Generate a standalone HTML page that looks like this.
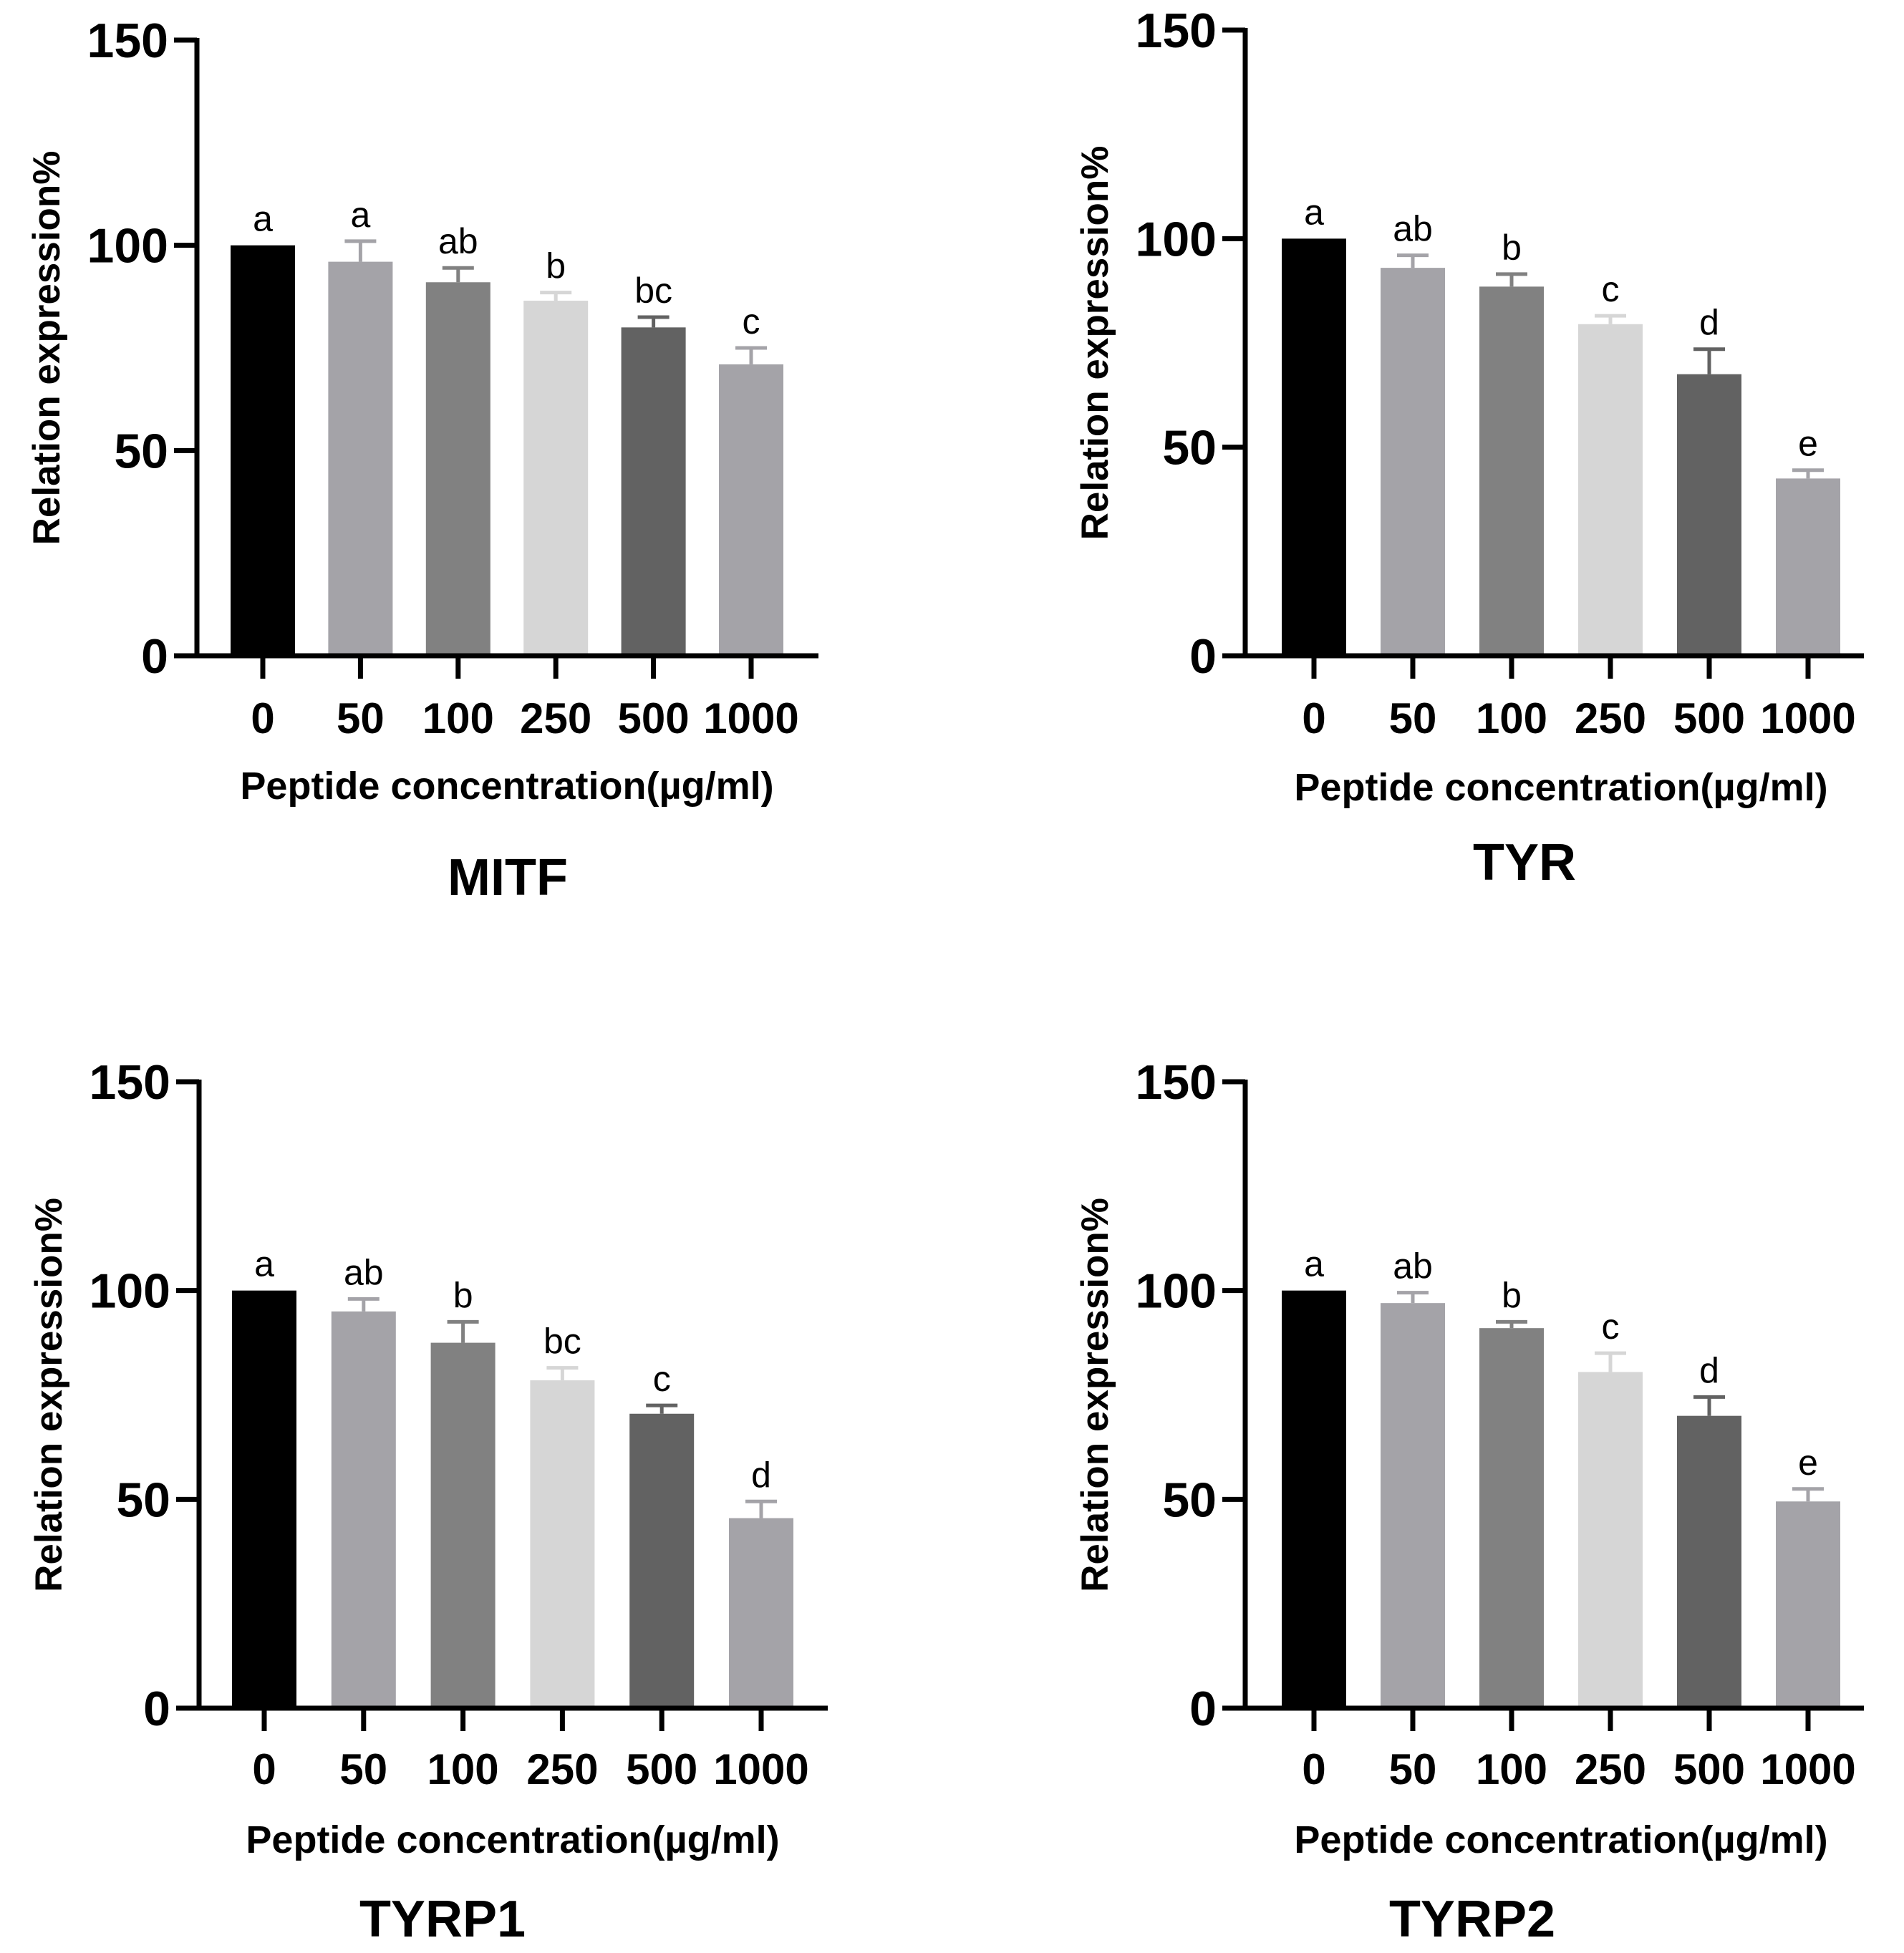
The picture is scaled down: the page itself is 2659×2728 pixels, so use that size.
<!DOCTYPE html>
<html><head><meta charset="utf-8">
<style>html,body{margin:0;padding:0;background:#fff}svg{display:block}</style></head>
<body>
<svg id="fig" width="2659" height="2728" viewBox="0 0 2659 2728" xmlns="http://www.w3.org/2000/svg" font-family="Liberation Sans, Arial, sans-serif"></svg>
<script>
const categories = ["0","50","100","250","500","1000"];
const yTicks = [0,50,100,150];
const colors = ["#000000","#a4a3a8","#818181","#d6d6d6","#626262","#a4a3a8"];
const mitfValues = [100,96,91,86.5,80,71];
const mitfErrTop = [100,101,94.5,88.5,82.5,75];
const mitfLetters = ["a","a","ab","b","bc","c"];
const tyrValues = [100,93,88.5,79.5,67.5,42.5];
const tyrErrTop = [100,96,91.5,81.5,73.5,44.5];
const tyrLetters = ["a","ab","b","c","d","e"];
const tyrp1Values = [100,95,87.5,78.5,70.5,45.5];
const tyrp1ErrTop = [100,98,92.5,81.5,72.5,49.5];
const tyrp1Letters = ["a","ab","b","bc","c","d"];
const tyrp2Values = [100,97,91,80.5,70,49.5];
const tyrp2ErrTop = [100,99.5,92.5,85,74.5,52.5];
const tyrp2Letters = ["a","ab","b","c","d","e"];

const svg = document.getElementById('fig');
const NS = "http://www.w3.org/2000/svg";
function el(tag, attrs, parent){const e=document.createElementNS(NS,tag);for(const k in attrs)e.setAttribute(k,attrs[k]);(parent||svg).appendChild(e);return e;}

function panel(name, title, values, errTop, letters, L){
  const g = el('g',{});
  
  
  const y = v => L.y0 - (v/150)*(L.y0-L.y150);
  const step = (L.xLast - L.xFirst)/(categories.length-1);
  const x = i => L.xFirst + i*step;
  const bw = 90;
  values.forEach((v,i)=>{
    const r = el('rect',{x:x(i)-bw/2,y:y(v),width:bw,height:y(0)-y(v),fill:colors[i]},g);
    
    
    if(errTop[i]>v+0.1){
      const eb = el('path',{d:`M${x(i)} ${y(v)} V${y(errTop[i])} M${x(i)-22} ${y(errTop[i])} H${x(i)+22}`,stroke:colors[i],'stroke-width':5,fill:'none'},g);
      
      
    }
    const t = el('text',{x:x(i),y:y(Math.max(v,errTop[i]))-20,'font-size':50,'text-anchor':'middle',fill:'#000'},g);
    t.textContent = letters[i];
    
    
    const tk = el('line',{x1:x(i),x2:x(i),y1:y(0),y2:y(0)+32,stroke:'#000','stroke-width':7},g);
    
    
    const tl = el('text',{x:x(i),y:L.tickLabelY,'font-size':60,'font-weight':'bold','text-anchor':'middle',fill:'#000'},g);
    tl.textContent = categories[i];
    
    
  });
  const ya = el('line',{x1:L.ax,x2:L.ax,y1:y(150)-3,y2:y(0)+3,stroke:'#000','stroke-width':7},g);
  
  
  const xa = el('line',{x1:L.ax-32,x2:L.xEnd,y1:y(0),y2:y(0),stroke:'#000','stroke-width':7},g);
  
  
  yTicks.forEach(t=>{
    const tk = el('line',{x1:L.ax-32,x2:L.ax,y1:y(t),y2:y(t),stroke:'#000','stroke-width':7},g);
    
    
    const tl = el('text',{x:L.ax-40,y:y(t)+24,'font-size':68,'font-weight':'bold','text-anchor':'end',fill:'#000'},g);
    tl.textContent = t;
    
    
  });
  const yt = el('text',{x:0,y:0,'font-size':53,'font-weight':'bold','text-anchor':'middle',fill:'#000',transform:`translate(${L.ax-192},${(y(0)+y(150))/2}) rotate(-90)`},g);
  yt.textContent = 'Relation expression%';
  
  
  const xt = el('text',{x:(L.xFirst+L.xLast)/2,y:L.xTitleY,'font-size':54,'font-weight':'bold','text-anchor':'middle',fill:'#000'},g);
  xt.textContent = 'Peptide concentration(\u00b5g/ml)';
  
  
  const pt = el('text',{x:L.titleX,y:L.titleY,'font-size':72,'font-weight':'bold','text-anchor':'middle',fill:'#000'},g);
  pt.textContent = title;
  
  
}

panel('mitf','MITF',mitfValues,mitfErrTop,mitfLetters,{ax:275,y0:916,y150:56,xFirst:367,xLast:1049,xEnd:1143,tickLabelY:1024,xTitleY:1116,titleY:1250,titleX:709});
panel('tyr','TYR',tyrValues,tyrErrTop,tyrLetters,{ax:1739,y0:916,y150:42,xFirst:1835,xLast:2525,xEnd:2603,tickLabelY:1024,xTitleY:1118,titleY:1229,titleX:2129});
panel('tyrp1','TYRP1',tyrp1Values,tyrp1ErrTop,tyrp1Letters,{ax:278,y0:2386,y150:1511,xFirst:369,xLast:1063,xEnd:1156,tickLabelY:2492,xTitleY:2588,titleY:2705,titleX:618});
panel('tyrp2','TYRP2',tyrp2Values,tyrp2ErrTop,tyrp2Letters,{ax:1739,y0:2386,y150:1511,xFirst:1835,xLast:2525,xEnd:2603,tickLabelY:2492,xTitleY:2588,titleY:2705,titleX:2056});
</script>
</body></html>
